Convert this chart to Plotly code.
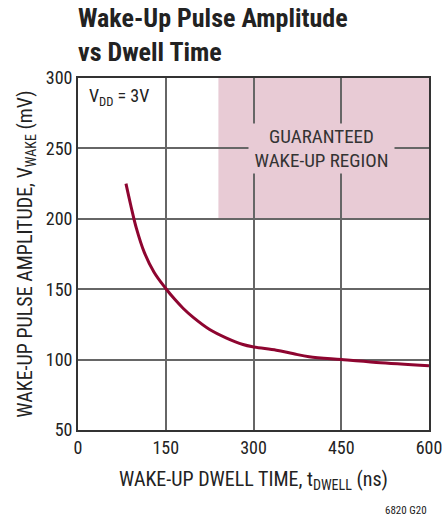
import plotly.graph_objects as go

# Data
dwell_ns = [82, 90, 100, 113, 130, 150, 165, 180, 197, 225, 253, 282, 300, 339, 367, 395, 450, 510, 600]
v_wake_mv = [225, 210, 193, 176.5, 162, 150.5, 143, 136.3, 130, 121.4, 115.5, 110.7, 109, 106.7, 104.3, 102, 100, 98, 95.7]

region_x = [240, 600]
region_y = [200, 300]

x_ticks = [0, 150, 300, 450, 600]
y_ticks = [50, 100, 150, 200, 250, 300]

FONT = "Liberation Sans Narrow, Roboto Condensed, Arial Narrow, Liberation Sans, sans-serif"
PINK = "#E8CBD5"
GRID = "#666666"
TXT = "#222222"

fig = go.Figure()
fig.add_trace(go.Scatter(
    x=dwell_ns, y=v_wake_mv, mode="lines",
    line=dict(color="#8E0530", width=3, shape="spline", smoothing=1.0),
    hoverinfo="skip", showlegend=False,
))

fig.add_shape(type="rect", xref="x", yref="y",
              x0=region_x[0], x1=region_x[1], y0=region_y[0], y1=region_y[1],
              fillcolor=PINK, line=dict(width=0), layer="below")

fig.add_annotation(x=417, y=250, xref="x", yref="y",
                   text="GUARANTEED<br>WAKE-UP REGION", showarrow=False,
                   font=dict(family=FONT, size=19, color="#333333"),
                   bgcolor=PINK, width=141, height=45, borderpad=2, align="center")

fig.add_annotation(x=0.026, y=0.986, xref="paper", yref="paper",
                   xanchor="left", yanchor="top",
                   text="V<sub>DD</sub> = 3V", showarrow=False,
                   font=dict(family=FONT, size=18, color=TXT))

fig.add_annotation(x=1.0, y=-0.205, xref="paper", yref="paper",
                   xanchor="right", yanchor="top",
                   text="6820 G20", showarrow=False,
                   font=dict(family=FONT, size=11, color=TXT))

fig.update_layout(
    width=444, height=516, autosize=False,
    margin=dict(l=78, r=15, t=78, b=86),
    paper_bgcolor="white", plot_bgcolor="white",
    font=dict(family=FONT, size=18, color=TXT),
    title=dict(text="<b>Wake-Up Pulse Amplitude<br>vs Dwell Time</b>",
               x=0, xref="paper", xanchor="left",
               y=0.947, yanchor="top",
               font=dict(family=FONT, size=26, color=TXT)),
    xaxis=dict(range=[0, 600], tickvals=x_ticks, showgrid=True, gridcolor=GRID, gridwidth=1.5,
               zeroline=False, showline=True, linecolor="#333333", linewidth=1.8, mirror=True,
               ticks="", tickfont=dict(size=18), automargin=False, ticklabeloverflow="allow",
               title=dict(text="WAKE-UP DWELL TIME, t<sub>DWELL</sub> (ns)", standoff=15,
                          font=dict(size=20))),
    yaxis=dict(range=[50, 300], tickvals=y_ticks, showgrid=True, gridcolor=GRID, gridwidth=1.5,
               zeroline=False, showline=True, linecolor="#333333", linewidth=1.8, mirror=True,
               ticks="", tickfont=dict(size=18), automargin=False, ticklabeloverflow="allow",
               title=dict(text="WAKE-UP PULSE AMPLITUDE, V<sub>WAKE</sub> (mV)", standoff=8,
                          font=dict(size=20))),
)

fig.write_html(
    "out.html",
    config={"responsive": False, "displayModeBar": False},
    post_script=(
        "document.body.style.margin='0';"
        "document.body.style.overflow='hidden';"
        "document.documentElement.style.overflow='hidden';"
    ),
)
